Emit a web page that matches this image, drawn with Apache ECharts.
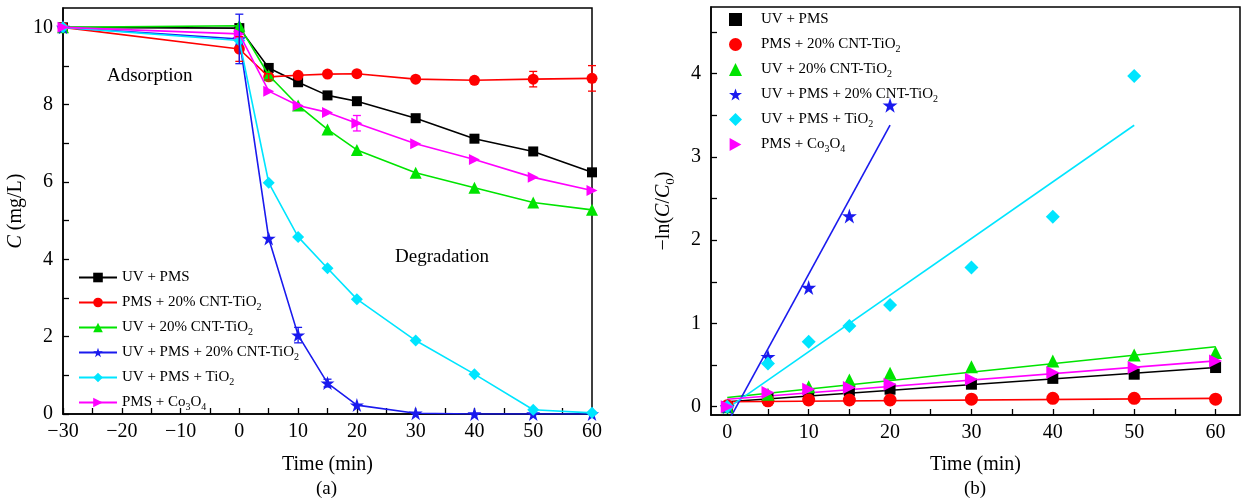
<!DOCTYPE html>
<html>
<head>
<meta charset="utf-8">
<script src="https://cdn.jsdelivr.net/npm/echarts@6/dist/echarts.min.js"></script>
<style>
html, body { margin: 0; padding: 0; background: #fff; }
#chart { width: 1245px; height: 504px; }
</style>
</head>
<body>
<div id="chart"></div>
<script>
// Series names (digits after an element become subscripts in the legends)
const seriesNames = [
  'UV + PMS',
  'PMS + 20% CNT-TiO2',
  'UV + 20% CNT-TiO2',
  'UV + PMS + 20% CNT-TiO2',
  'UV + PMS + TiO2',
  'PMS + Co3O4'
];

// (a) concentration vs time
const timeA = [-30, 0, 5, 10, 15, 20, 30, 40, 50, 60];
const concUvPms     = [10, 9.98, 8.95, 8.58, 8.24, 8.09, 7.65, 7.12, 6.79, 6.25];
const concPmsCnt    = [10, 9.44, 8.72, 8.76, 8.79, 8.80, 8.66, 8.63, 8.66, 8.68];
const concUvCnt     = [10, 10.04, 8.76, 7.98, 7.36, 6.83, 6.24, 5.85, 5.47, 5.28];
const concUvPmsCnt  = [10, 9.70, 4.54, 2.04, 0.80, 0.23, 0.02, 0.0, 0.0, 0.0];
const concUvPmsTiO2 = [10, 9.66, 5.98, 4.58, 3.77, 2.97, 1.90, 1.03, 0.11, 0.03];
const concPmsCo     = [10, 9.83, 8.35, 7.98, 7.80, 7.52, 6.99, 6.58, 6.12, 5.78];

// (a) error bar half-widths (0 = no bar)
const errUvPms     = [0, 0, 0, 0, 0, 0, 0, 0, 0, 0];
const errPmsCnt    = [0, 0.32, 0.08, 0, 0, 0, 0, 0, 0.2, 0.33];
const errUvCnt     = [0, 0, 0, 0, 0, 0, 0, 0, 0, 0];
const errUvPmsCnt  = [0, 0.64, 0, 0.2, 0.1, 0, 0, 0, 0, 0];
const errUvPmsTiO2 = [0, 0, 0, 0, 0, 0, 0, 0, 0, 0];
const errPmsCo     = [0, 0, 0, 0, 0, 0.2, 0, 0, 0, 0];

// (b) -ln(C/C0) vs time
const timeB = [0, 5, 10, 15, 20, 30, 40, 50, 60];
const lnUvPms     = [0, 0.10, 0.14, 0.19, 0.21, 0.27, 0.34, 0.39, 0.47];
const lnPmsCnt    = [0.01, 0.07, 0.08, 0.08, 0.08, 0.09, 0.10, 0.10, 0.09];
const lnUvCnt     = [0, 0.15, 0.24, 0.32, 0.40, 0.48, 0.55, 0.62, 0.65];
const lnUvPmsCnt  = [0, 0.60, 1.43, 2.29, 3.62];
const lnUvPmsTiO2 = [0, 0.52, 0.78, 0.97, 1.22, 1.67, 2.28, 3.97];
const lnPmsCo     = [0, 0.17, 0.21, 0.23, 0.27, 0.33, 0.41, 0.47, 0.55];

// (b) linear fit end points: [t start, value start, t end, value end]
const fitUvPms     = [0, 0.06, 60, 0.47];
const fitPmsCnt    = [0, 0.06, 60, 0.10];
const fitUvCnt     = [0, 0.11, 60, 0.72];
const fitUvPmsCnt  = [0, -0.20, 20, 3.38];
const fitUvPmsTiO2 = [0, -0.02, 50, 3.38];
const fitPmsCo     = [0, 0.09, 60, 0.55];

// axis ticks
const ticksAX = [-30, -20, -10, 0, 10, 20, 30, 40, 50, 60];
const ticksAY = [0, 2, 4, 6, 8, 10];
const ticksBX = [0, 10, 20, 30, 40, 50, 60];
const ticksBY = [0, 1, 2, 3, 4];

const colors = ['#000000', '#ff0000', '#00e400', '#1a1aee', '#00e5ff', '#ff00ff'];
const starPath = 'path://M50,0 L61.8,35.1 L98.9,35.1 L68.9,56.8 L80.4,91.9 L50,70.2 L19.6,91.9 L31.1,56.8 L1.1,35.1 L38.2,35.1 Z';
const rightTriPath = 'path://M0,0 L90,50 L0,100 Z';
const symbols = ['rect', 'circle', 'triangle', starPath, 'diamond', rightTriPath];
const sizeA = [10, 11, 12, 14, 12, 11];
const sizeB = [11, 13, 13, 15, 14, 13];

const concA = [concUvPms, concPmsCnt, concUvCnt, concUvPmsCnt, concUvPmsTiO2, concPmsCo];
const errA = [errUvPms, errPmsCnt, errUvCnt, errUvPmsCnt, errUvPmsTiO2, errPmsCo];
const lnB = [lnUvPms, lnPmsCnt, lnUvCnt, lnUvPmsCnt, lnUvPmsTiO2, lnPmsCo];
const fitB = [fitUvPms, fitPmsCnt, fitUvCnt, fitUvPmsCnt, fitUvPmsTiO2, fitPmsCo];

const FONT = '"Liberation Serif", "Times New Roman", serif';
const minus = v => (v < 0 ? '\u2212' + (-v) : String(v));
const chem = s => s.replace(/([A-Za-z])(\d)/g, '$1{s|$2}');
const stepList = (a, b, st) => { const r = []; for (let v = a; v <= b + 1e-9; v += st) r.push(+v.toFixed(3)); return r; };

const axisLineStyle = { show: true, onZero: false, lineStyle: { color: '#000', width: 1.5 } };
const tickStyle = { lineStyle: { color: '#000', width: 1.3 } };
const labelStyle = { color: '#000', fontFamily: FONT, fontSize: 20 };
const nameStyle = {
  color: '#000', fontFamily: FONT, fontSize: 20, lineHeight: 26,
  rich: {
    i: { fontStyle: 'italic', fontFamily: FONT, fontSize: 20, lineHeight: 26, color: '#000' },
    s: { fontFamily: FONT, fontSize: 13, lineHeight: 13, verticalAlign: 'bottom', color: '#000' }
  }
};
const legendText = {
  color: '#000', fontFamily: FONT, fontSize: 15, lineHeight: 19,
  rich: { s: { fontFamily: FONT, fontSize: 10, lineHeight: 10, verticalAlign: 'bottom', color: '#000' } }
};

const series = [];

// (a) lines with markers
concA.forEach((vals, k) => {
  series.push({
    name: seriesNames[k],
    type: 'line',
    xAxisIndex: 0, yAxisIndex: 0,
    data: timeA.map((t, i) => [t, vals[i]]),
    symbol: symbols[k], symbolSize: sizeA[k],
    showAllSymbol: true,
    lineStyle: { color: colors[k], width: 1.6 },
    itemStyle: { color: colors[k] },
    z: 3 + k
  });
});

// (a) error bars
concA.forEach((vals, k) => {
  const c = colors[k];
  const data = [];
  timeA.forEach((t, i) => { if (errA[k][i] > 0) data.push([t, vals[i], errA[k][i]]); });
  if (!data.length) return;
  series.push({
    name: 'err-' + k,
    type: 'custom',
    xAxisIndex: 0, yAxisIndex: 0,
    data,
    encode: { x: 0, y: 1 },
    z: 10,
    renderItem(params, api) {
      const x = api.value(0), y = api.value(1), e = api.value(2);
      const lo = api.coord([x, y - e]), hi = api.coord([x, y + e]);
      const w = 4, st = { stroke: c, lineWidth: 1.3 };
      return {
        type: 'group',
        children: [
          { type: 'line', shape: { x1: lo[0], y1: lo[1], x2: hi[0], y2: hi[1] }, style: st },
          { type: 'line', shape: { x1: lo[0] - w, y1: lo[1], x2: lo[0] + w, y2: lo[1] }, style: st },
          { type: 'line', shape: { x1: hi[0] - w, y1: hi[1], x2: hi[0] + w, y2: hi[1] }, style: st }
        ]
      };
    }
  });
});

// (b) fit lines
fitB.forEach((f, k) => {
  series.push({
    name: 'fit-' + k,
    type: 'line',
    xAxisIndex: 1, yAxisIndex: 1,
    data: [[f[0], f[1]], [f[2], f[3]]],
    symbol: 'none',
    lineStyle: { color: colors[k], width: 1.6 },
    z: 2
  });
});

// (b) measured points
lnB.forEach((vals, k) => {
  series.push({
    name: 'b:' + seriesNames[k],
    type: 'scatter',
    xAxisIndex: 1, yAxisIndex: 1,
    data: vals.map((v, i) => [timeB[i], v]),
    symbol: symbols[k], symbolSize: sizeB[k],
    itemStyle: { color: colors[k], opacity: 1 },
    z: 4 + k
  });
});

const option = {
  animation: false,
  backgroundColor: '#fff',
  grid: [
    { left: 63, top: 8, width: 529, height: 406, show: true, borderColor: '#000', borderWidth: 1.5, backgroundColor: 'transparent' },
    { left: 711, top: 7, width: 529, height: 408, show: true, borderColor: '#000', borderWidth: 1.5, backgroundColor: 'transparent' }
  ],
  xAxis: [
    {
      type: 'value', gridIndex: 0, min: -30, max: 60,
      name: 'Time (min)', nameLocation: 'middle', nameGap: 38, nameTextStyle: nameStyle,
      axisLine: axisLineStyle,
      axisTick: { show: true, inside: true, length: 6, customValues: stepList(-30, 60, 5), ...tickStyle },
      axisLabel: { customValues: ticksAX, formatter: minus, margin: 8, ...labelStyle },
      splitLine: { show: false }
    },
    {
      type: 'value', gridIndex: 1, min: -2, max: 63,
      name: 'Time (min)', nameLocation: 'middle', nameGap: 37, nameTextStyle: nameStyle,
      axisLine: axisLineStyle,
      axisTick: { show: true, inside: true, length: 6, customValues: stepList(0, 60, 5), ...tickStyle },
      axisLabel: { customValues: ticksBX, margin: 8, ...labelStyle },
      splitLine: { show: false }
    }
  ],
  yAxis: [
    {
      type: 'value', gridIndex: 0, min: 0, max: 10.5,
      name: '{i|C} (mg/L)', nameLocation: 'middle', nameGap: 26, nameTextStyle: nameStyle,
      axisLine: axisLineStyle,
      axisTick: { show: true, inside: true, length: 6, customValues: stepList(0, 10, 1), ...tickStyle },
      axisLabel: { customValues: ticksAY, margin: 10, ...labelStyle },
      splitLine: { show: false }
    },
    {
      type: 'value', gridIndex: 1, min: -0.1, max: 4.8,
      name: '\u2212ln({i|C}/{i|C}{s|0})', nameLocation: 'middle', nameGap: 34, nameTextStyle: nameStyle,
      axisLine: axisLineStyle,
      axisTick: { show: true, inside: true, length: 6, customValues: stepList(0, 4.5, 0.5), ...tickStyle },
      axisLabel: { customValues: ticksBY, margin: 10, ...labelStyle },
      splitLine: { show: false }
    }
  ],
  legend: [
    {
      data: seriesNames,
      orient: 'vertical', left: 73, top: 263,
      itemWidth: 38, itemHeight: 12, itemGap: 6,
      formatter: name => chem(name),
      textStyle: legendText,
      selectedMode: false
    },
    {
      data: seriesNames.map(n => 'b:' + n),
      orient: 'vertical', left: 724, top: 5,
      itemWidth: 13, itemHeight: 13, itemGap: 6,
      formatter: name => chem(name.slice(2)),
      textStyle: { ...legendText, padding: [0, 0, 0, 14] },
      selectedMode: false
    }
  ],
  graphic: [
    { type: 'text', left: 107, top: 67, style: { text: 'Adsorption', font: '19px ' + FONT, fill: '#000' } },
    { type: 'text', left: 395, top: 248, style: { text: 'Degradation', font: '19px ' + FONT, fill: '#000' } },
    { type: 'text', left: 316, top: 480, style: { text: '(a)', font: '19px ' + FONT, fill: '#000' } },
    { type: 'text', left: 964, top: 480, style: { text: '(b)', font: '19px ' + FONT, fill: '#000' } }
  ],
  series
};

const chart = echarts.init(document.getElementById('chart'), null, { renderer: 'canvas' });
chart.setOption(option);
</script>
</body>
</html>
